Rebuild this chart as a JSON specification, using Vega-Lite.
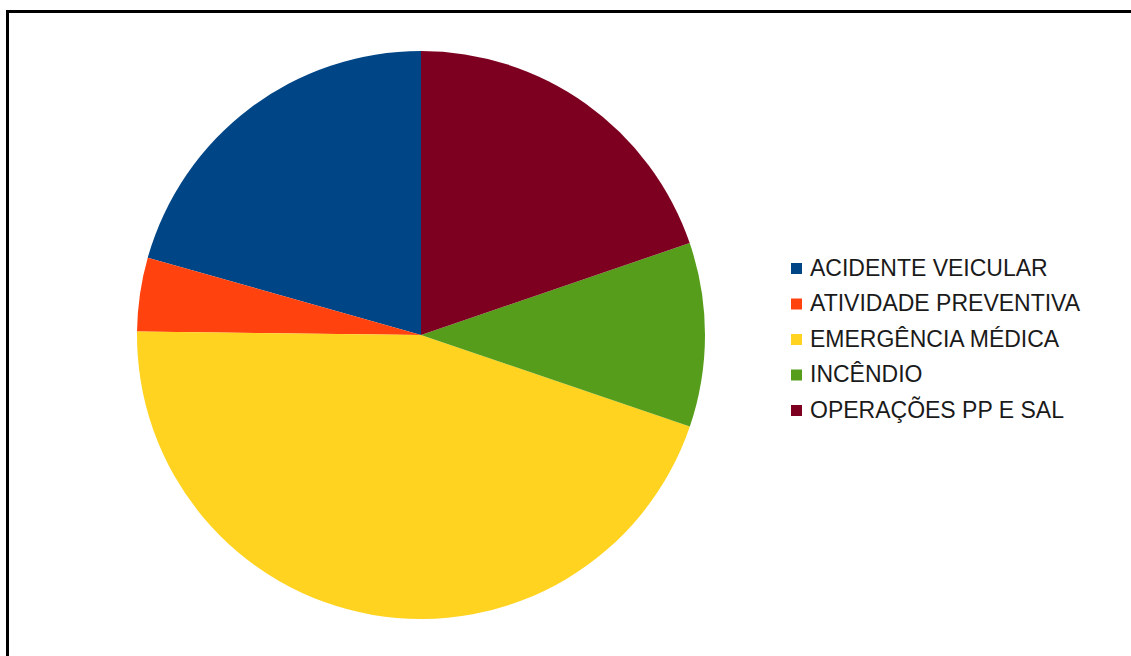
{
  "$schema": "https://vega.github.io/schema/vega-lite/v6.json",
  "width": 1140,
  "height": 650,
  "padding": {"left": 7.5, "top": 11.5, "right": 0, "bottom": 0},
  "background": "white",
  "view": {"stroke": "black", "strokeWidth": 3, "fill": "white"},
  "config": {
    "font": "Liberation Sans"
  },
  "data": {
    "values": [
      {"categoria": "ACIDENTE VEICULAR", "valor": 20.61},
      {"categoria": "ATIVIDADE PREVENTIVA", "valor": 4.19},
      {"categoria": "EMERGÊNCIA MÉDICA", "valor": 44.97},
      {"categoria": "INCÊNDIO", "valor": 10.47},
      {"categoria": "OPERAÇÕES PP E SAL", "valor": 19.75}
    ]
  },
  "mark": {"type": "arc", "radius": 284, "x": 413.5, "y": 323.5, "strokeWidth": 0},
  "encoding": {
    "theta": {"field": "valor", "type": "quantitative", "stack": true},
    "order": {"field": "categoria", "type": "nominal", "sort": "descending"},
    "color": {
      "field": "categoria",
      "type": "nominal",
      "scale": {
        "domain": ["ACIDENTE VEICULAR", "ATIVIDADE PREVENTIVA", "EMERGÊNCIA MÉDICA", "INCÊNDIO", "OPERAÇÕES PP E SAL"],
        "range": ["#004586", "#ff420e", "#ffd320", "#579d1c", "#7e0021"]
      },
      "legend": {
        "title": null,
        "orient": "none",
        "legendX": 777.5,
        "legendY": 245.5,
        "padding": 0,
        "symbolType": "square",
        "symbolSize": 121,
        "symbolStrokeWidth": 0,
        "labelFont": "Liberation Sans",
        "labelFontSize": 23,
        "labelColor": "#1a1a1a",
        "labelOffset": 2,
        "rowPadding": 11.5,
        "labelLimit": 400
      }
    }
  }
}
